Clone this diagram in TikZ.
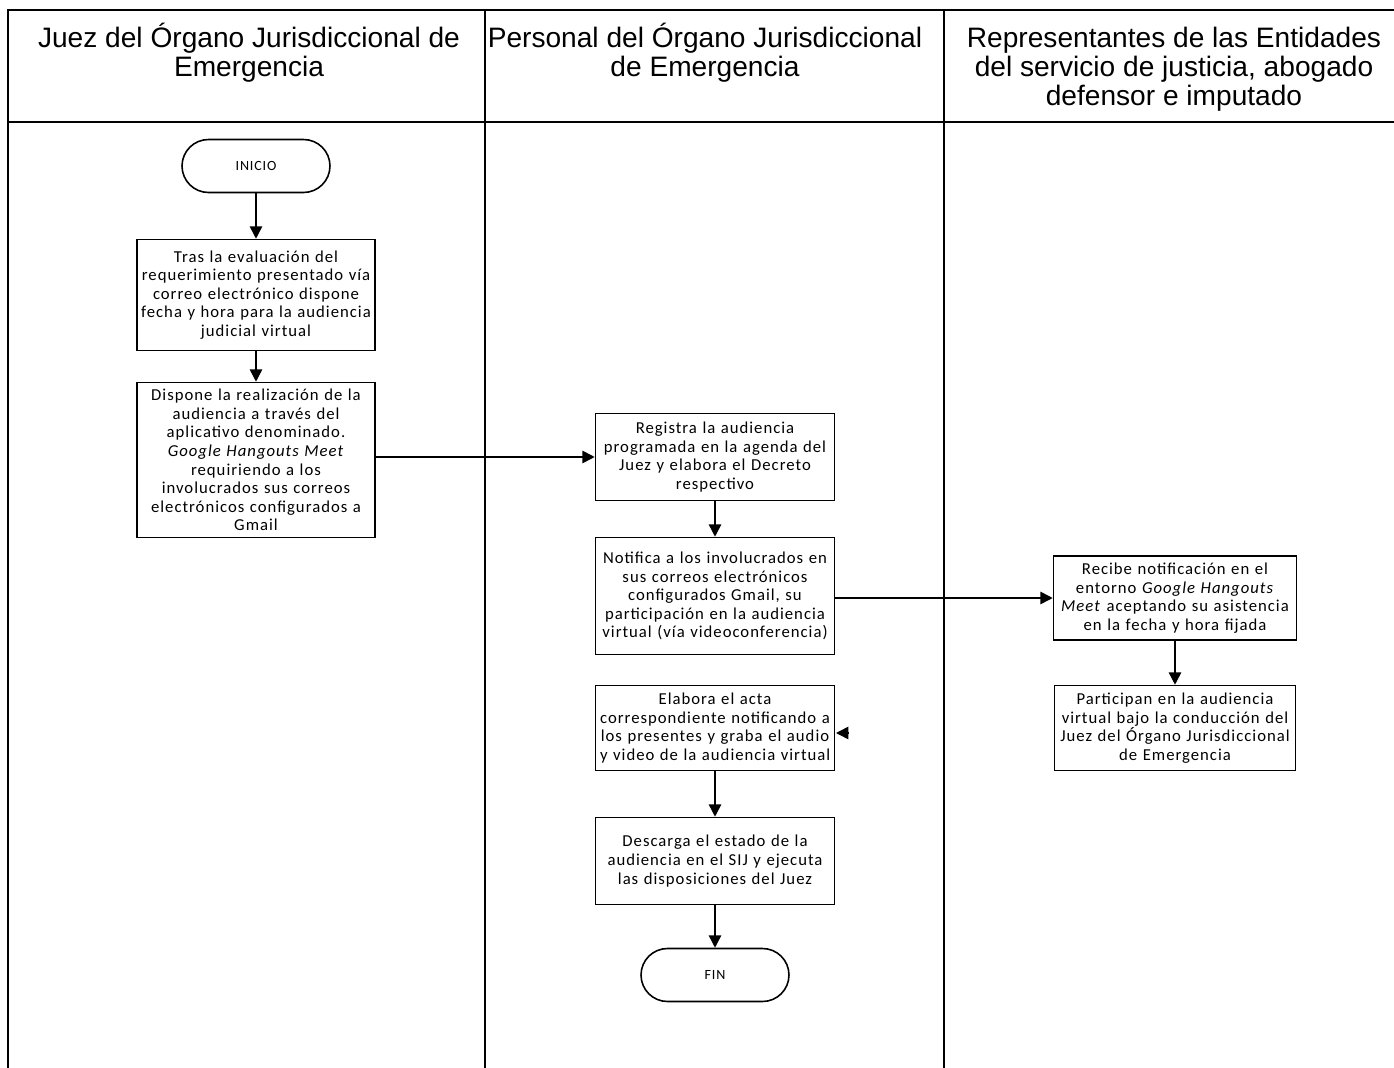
\documentclass[tikz,border=0pt]{standalone}
\usepackage{fontspec}
\setmainfont{Liberation Sans}
\newfontfamily\boxfont[LetterSpace=6]{Carlito}
\usetikzlibrary{arrows.meta,positioning}

\begin{document}
\begin{tikzpicture}[x=0.02cm,y=-0.02cm,
lane/.style={draw,line width=0.9pt},
header/.style={anchor=north,align=center,font=\fontsize{16}{16.5}\selectfont},
box/.style={draw,line width=0.9pt,align=center,text width=4.6cm,inner sep=2pt,font=\boxfont\fontsize{9.5}{10.6}\selectfont},
term/.style={draw,line width=0.9pt,rounded corners=0.53cm,minimum width=2.96cm,minimum height=1.06cm,font=\boxfont\fontsize{8}{9}\selectfont},
flow/.style={-{Triangle[length=7pt,width=7pt]},line width=0.9pt},
]
	\useasboundingbox (0,0) rectangle (1394,1068);
	% lanes
	\draw[lane] (8,1068) -- (8,10) -- (1394,10);
	\draw[lane] (8,122) -- (1394,122);
	\draw[lane] (485,10) -- (485,1068);
	\draw[lane] (944,10) -- (944,1068);
	\node[header] (hjuez) at (249,17) {Juez del Órgano Jurisdiccional de\\Emergencia};
	\node[header] (hpersonal) at (705,17) {Personal del Órgano Jurisdiccional\\de Emergencia};
	\node[header] (hrepres) at (1174,21) {Representantes de las Entidades\\del servicio de justicia, abogado\\defensor e imputado};

	% juez
	\node[term] (inicio) at (256,166) {INICIO};
	\node[box,minimum width=4.76cm,minimum height=2.22cm] (evalua) at (256,295)
		{Tras la evaluación del\\requerimiento presentado vía\\correo electrónico dispone\\fecha y hora para la audiencia\\judicial virtual};
	\node[box,minimum width=4.76cm,minimum height=3.1cm] (dispone) at (256,460)
		{Dispone la realización de la\\audiencia a través del\\aplicativo denominado.\\\textit{Google Hangouts Meet}\\requiriendo a los\\involucrados sus correos\\electrónicos configurados a\\Gmail};

	% personal
	\node[box,minimum width=4.78cm,minimum height=1.74cm] (registra) at (715,457)
		{Registra la audiencia\\programada en la agenda del\\Juez y elabora el Decreto\\respectivo};
	\node[box,minimum width=4.78cm,minimum height=2.34cm] (notifica) at (715,596)
		{Notifica a los involucrados en\\sus correos electrónicos\\configurados Gmail, su\\participación en la audiencia\\virtual (vía videoconferencia)};
	\node[box,minimum width=4.78cm,minimum height=1.7cm] (elabora) at (715,728)
		{Elabora el acta\\correspondiente notificando a\\los presentes y graba el audio\\y video de la audiencia virtual};
	\node[box,minimum width=4.78cm,minimum height=1.74cm] (descarga) at (715,861)
		{Descarga el estado de la\\audiencia en el SIJ y ejecuta\\las disposiciones del Juez};
	\node[term] (fin) at (715,975) {FIN};

	% representantes
	\node[box,minimum width=4.86cm,minimum height=1.68cm] (recibe) at (1175,598)
		{Recibe notificación en el\\entorno \textit{Google Hangouts}\\\textit{Meet} aceptando su asistencia\\en la fecha y hora fijada};
	\node[box,minimum width=4.82cm,minimum height=1.7cm] (participan) at (1175,728)
		{Participan en la audiencia\\virtual bajo la conducción del\\Juez del Órgano Jurisdiccional\\de Emergencia};

	% flujo
	\draw[flow] (inicio) -- (evalua);
	\draw[flow] (evalua) -- (dispone);
	\draw[flow] (dispone.east |- registra.west) -- (registra.west);
	\draw[flow] (registra) -- (notifica);
	\draw[flow] (notifica.east |- recibe.west) -- (recibe.west);
	\draw[flow] (recibe) -- (participan);
	\draw[flow] (elabora) -- (descarga);
	\draw[flow] (descarga) -- (fin);
	\coordinate (sueltoa) at (849,733);
	\coordinate (sueltob) at (836,733);
	\draw[flow] (sueltoa) -- (sueltob);
\end{tikzpicture}
\end{document}
